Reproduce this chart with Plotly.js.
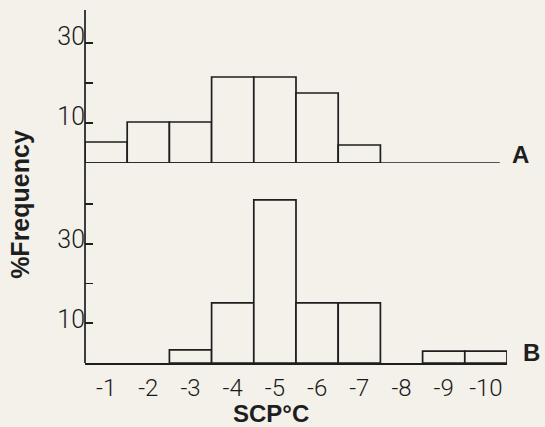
<!DOCTYPE html>
<html>
<head>
<meta charset="utf-8">
<script src="https://cdn.plot.ly/plotly-3.0.1.min.js"></script>
<style>html,body{margin:0;padding:0;background:#f3f1ea;}</style>
</head>
<body>
<div id="chart" style="width:545px;height:427px;"></div>
<script>
// Bin positions (1..10) and their labels (SCP in °C)
var binPos = [1, 2, 3, 4, 5, 6, 7, 8, 9, 10];
var binLabels = ["-1", "-2", "-3", "-4", "-5", "-6", "-7", "-8", "-9", "-10"];
// % frequency, panel A (top) and panel B (bottom)
var freqA = [5.25, 10.25, 10.25, 21.5, 21.5, 17.5, 4.5, null, null, null];
var freqB = [null, null, 3.3, 15.1, 41, 15.1, 15.1, null, 3, 3];
// y ticks
var tickValsA = [10, 20, 30];
var tickTextA = ["10", "", "30"];
var tickValsB = [10, 20, 30, 40];
var tickTextB = ["10", "", "30", ""];

var bg = '#f3f1ea';
var ink = '#1e1e1e';
var thinFamily = 'Roboto, "DejaVu Sans", sans-serif';
var xTickFont = {family: thinFamily, size: 24, color: '#1a1a1a', weight: 300};
var yTickFont = {family: thinFamily, size: 25, color: '#1a1a1a', weight: 300};
var boldFont = {family: '"Liberation Sans", Arial, sans-serif', size: 24, color: ink, weight: 700};

var barStyle = {color: bg, line: {color: ink, width: 1.7}};

var traces = [
  {type: 'bar', x: binPos, y: freqA, width: 1, xaxis: 'x2', yaxis: 'y2', marker: barStyle, hoverinfo: 'skip'},
  {type: 'bar', x: binPos, y: freqB, width: 1, xaxis: 'x', yaxis: 'y', marker: barStyle, hoverinfo: 'skip'}
];

var layout = {
  width: 545, height: 427,
  margin: {l: 85, r: 38, t: 10, b: 64},
  paper_bgcolor: bg, plot_bgcolor: 'rgba(0,0,0,0)',
  showlegend: false,
  bargap: 0,
  xaxis: {
    domain: [0, 1], range: [0.5, 10.5], anchor: 'y',
    tickvals: binPos, ticktext: binLabels,
    showline: true, linecolor: ink, linewidth: 1.7,
    ticks: '', showgrid: false, zeroline: false,
    tickfont: xTickFont, ticklabelstandoff: 2
  },
  xaxis2: {
    domain: [0, 1], range: [0.5, 10.5], anchor: 'y2', matches: 'x',
    showticklabels: false, showline: false, ticks: '', showgrid: false, zeroline: false
  },
  yaxis: {
    domain: [0, 0.49], range: [0, 43.5], anchor: 'x',
    tickvals: tickValsB, ticktext: tickTextB,
    ticks: 'inside', ticklen: 8, tickwidth: 1.7, tickcolor: ink,
    showline: false, showgrid: false, zeroline: false,
    tickfont: yTickFont, ticklabelstandoff: -1, ticklabelshift: -4
  },
  yaxis2: {
    domain: [0.5666, 1], range: [0, 38.25], anchor: 'x2',
    tickvals: tickValsA, ticktext: tickTextA,
    ticks: 'inside', ticklen: 8, tickwidth: 1.7, tickcolor: ink,
    showline: false, showgrid: false, zeroline: false,
    tickfont: yTickFont, ticklabelstandoff: -1, ticklabelshift: -7
  },
  shapes: [
    {type: 'line', xref: 'paper', yref: 'paper', x0: 0, x1: 0, y0: 0, y1: 1, line: {color: ink, width: 1.7}},
    {type: 'line', xref: 'x2', yref: 'y2', x0: 0.5, x1: 10.33, y0: 0, y1: 0, line: {color: ink, width: 1.7}}
  ],
  annotations: [
    {text: '%Frequency', xref: 'paper', yref: 'paper', x: -0.154, y: 0.448, textangle: -90, showarrow: false, font: {family: boldFont.family, size: 25, color: ink, weight: 700}, xanchor: 'center', yanchor: 'middle'},
    {text: 'SCP°C', xref: 'paper', yref: 'paper', x: 0.441, y: -0.142, showarrow: false, font: boldFont, xanchor: 'center', yanchor: 'middle'},
    {text: 'A', xref: 'paper', yref: 'paper', x: 1.031, y: 0.592, showarrow: false, font: {family: boldFont.family, size: 24, color: ink, weight: 700}, xanchor: 'center', yanchor: 'middle'},
    {text: 'B', xref: 'paper', yref: 'paper', x: 1.057, y: 0.031, showarrow: false, font: {family: boldFont.family, size: 24, color: ink, weight: 700}, xanchor: 'center', yanchor: 'middle'}
  ]
};

Plotly.newPlot('chart', traces, layout, {displayModeBar: false, staticPlot: true});
</script>
</body>
</html>
